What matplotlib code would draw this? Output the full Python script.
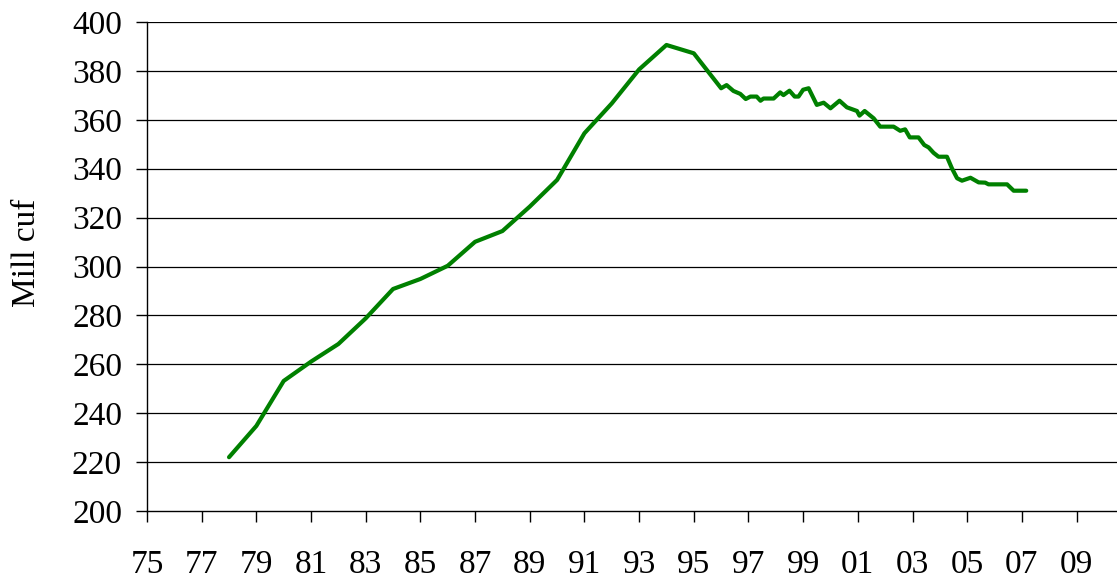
import matplotlib
matplotlib.use("Agg")
import matplotlib.pyplot as plt

# Decimal-year positions and values (Mill cuf)
years = [1978, 1979, 1980, 1981, 1982, 1983, 1984, 1985, 1986, 1987, 1988,
         1989, 1990, 1991, 1992, 1993, 1994, 1995,
         1996.0, 1996.2, 1996.45, 1996.7, 1996.9, 1997.07, 1997.3, 1997.44,
         1997.55, 1997.92, 1998.16, 1998.28, 1998.5, 1998.69, 1998.83, 1999.0,
         1999.2, 1999.5, 1999.75, 2000.0, 2000.33, 2000.6, 2000.97, 2001.06,
         2001.25, 2001.58, 2001.82, 2002.31, 2002.55, 2002.73, 2002.9, 2003.22,
         2003.43, 2003.59, 2003.77, 2003.95, 2004.26, 2004.44, 2004.63, 2004.81,
         2005.12, 2005.42, 2005.66, 2005.78, 2006.46, 2006.7, 2007.16]
values = [222.0, 234.8, 253.2, 261.1, 268.3, 278.8, 290.8, 294.9, 300.3, 310.1, 314.5,
          324.5, 335.4, 354.5, 366.7, 380.6, 390.6, 387.2,
          372.9, 374.2, 371.8, 370.6, 368.5, 369.5, 369.5, 367.8,
          368.7, 368.7, 371.2, 370.1, 371.9, 369.5, 369.5, 372.3,
          372.9, 366.1, 367.0, 364.7, 367.8, 365.1, 363.6, 361.7,
          363.6, 360.6, 357.2, 357.2, 355.5, 356.1, 352.8, 352.8,
          349.7, 348.7, 346.5, 344.9, 344.9, 340.2, 336.1, 335.1,
          336.3, 334.4, 334.3, 333.6, 333.6, 331.0, 331.0]

x_ticks = list(range(1975, 2010, 2))
x_tick_labels = ["%02d" % (y % 100) for y in x_ticks]
y_ticks = list(range(200, 401, 20))
y_label = "Mill cuf"

plt.rcParams['font.family'] = ['Liberation Serif', 'DejaVu Serif']

fig = plt.figure(figsize=(11.17, 5.82), dpi=100)
ax = fig.add_axes([147 / 1117, 71 / 582, (1117 - 147) / 1117, (511 - 22) / 582])

ax.plot(years, values, color='#008000', linewidth=3.0, solid_joinstyle='round',
        solid_capstyle='round', zorder=3)

ax.set_xlim(1975, 2010.48)
ax.set_ylim(200, 400)
ax.set_xticks(x_ticks)
ax.set_xticklabels(x_tick_labels)
ax.set_yticks(y_ticks)

for yv in y_ticks[1:]:
    ax.axhline(yv, color='black', linewidth=0.9, zorder=1)

for s in ['top', 'right']:
    ax.spines[s].set_visible(False)
for s in ['left', 'bottom']:
    ax.spines[s].set_color('black')
    ax.spines[s].set_linewidth(1.0)

ax.tick_params(axis='x', direction='out', length=8, width=1.0, labelsize=24, pad=20)
ax.tick_params(axis='y', direction='out', length=8, width=1.0, labelsize=24, pad=10)
ax.set_ylabel(y_label, fontsize=24)
ax.yaxis.set_label_coords(-0.108, 0.527)

fig.savefig("out.png", dpi=100)
